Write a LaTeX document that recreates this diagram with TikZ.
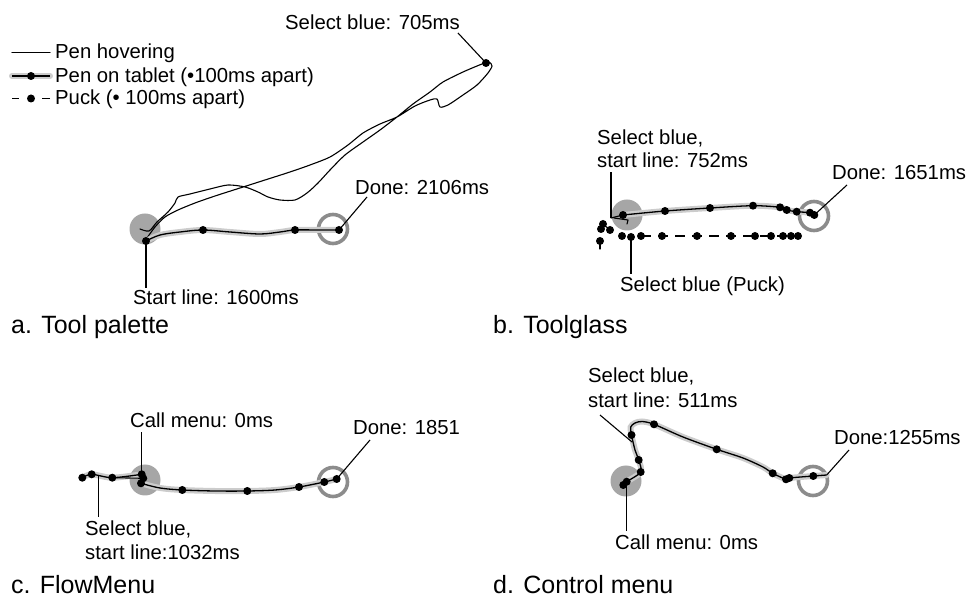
\documentclass[tikz,border=0pt]{standalone}
\usepackage{fontspec}
\setmainfont{Liberation Sans}
\definecolor{penunder}{gray}{0.80}
\definecolor{startgray}{gray}{0.65}
\definecolor{ringgray}{gray}{0.55}
\begin{document}
\begin{tikzpicture}[x=1pt,y=-1pt,
  lbl/.style={font=\fontsize{20.3}{24}\selectfont, inner sep=0pt, anchor=base west},
  captxt/.style={font=\fontsize{25}{29}\selectfont, inner sep=0pt, anchor=base west},
  hover/.style={draw=black, line width=1.1pt, line join=round, line cap=round},
  pen/.style={draw=black, line width=1.3pt, line join=round, preaction={draw=penunder, line width=6pt, line cap=round}},
  puck/.style={draw=black, line width=1.2pt, dash pattern=on 10pt off 7pt},
  leader/.style={draw=black, line width=1.1pt},
  startc/.style={fill=startgray},
  donec/.style={draw=ringgray, line width=3.6pt},
]
\useasboundingbox (0,0) rectangle (970,601);
\newcommand\dotat[1]{\fill (#1) circle[radius=4pt];}

% ---------------- legend ----------------
\coordinate (l1a) at (12,52.5); \coordinate (l1b) at (50,52.5);
\coordinate (l2a) at (12,76);   \coordinate (l2b) at (50,76); \coordinate (l2d) at (31,76);
\coordinate (l3a) at (12,98.5); \coordinate (l3b) at (50,98.5); \coordinate (l3d) at (31,98.5);
\draw[hover] (l1a) -- (l1b);
\draw[pen] (l2a) -- (l2b);
\dotat{l2d}
\draw[leader] (l3a) -- ++(7,0);
\draw[leader] (l3b) -- ++(-8,0);
\dotat{l3d}
\node[lbl] (leg1) at (55,58.5) {Pen hovering};
\node[lbl] (leg2) at (55,83) {Pen on tablet (•100ms apart)};
\node[lbl] (leg3) at (55,105) {Puck (• 100ms apart)};

% ---------------- panel a: Tool palette ----------------
\fill[startc] (145,229) circle[radius=15.5pt];
\draw[donec] (333,229) circle[radius=14.5pt];
\coordinate (a1) at (146,241);
\coordinate (a2) at (203,230);
\coordinate (a3) at (295,230);
\coordinate (a4) at (339,230);
\coordinate (asel) at (486,63);
\draw[hover] plot[smooth, tension=0.45] coordinates {
 (140,229) (149,231) (157,222) (168,212) (175,203) (178,197) (190,194) (210,189)
 (228,185) (245,187) (258,192) (268,197) (280,200) (295,200) (307,193) (318,183)
 (330,170) (345,155) (363,142) (380,130) (397,117) (413,104) (430,92) (443,82)
 (463,72) (482,64) (489,62) (492,66) (488,73) (477,85) (463,95) (448,105)
 (440,107) (437,99) (430,100) (415,106) (397,117) (380,124) (363,133) (348,145)
 (330,157) (310,165) (290,172) (265,180) (240,188) (215,196) (195,203) (178,210)
 (165,217) (155,227) (147,238)};
\draw[pen] plot[smooth, tension=0.55] coordinates {(a1) (160,235) (180,232) (a2) (230,232) (260,234) (280,232) (a3) (320,230) (a4)};
\foreach \p in {a1,a2,a3,a4,asel} {\dotat{\p}}
\node[lbl] (asellab) at (285,30) {Select blue: 705ms};
\coordinate (aselend) at (458,33);
\draw[leader] (aselend) -- (asel);
\node[lbl] (adonelab) at (355,195) {Done: 2106ms};
\coordinate (adoneend) at (367,197);
\draw[leader] (a4) -- (adoneend);
\node[lbl] (astartlab) at (133,305) {Start line: 1600ms};
\draw[leader] (a1) -- (a1 |- 0,288);
\node[captxt] (capa) at (11,334) {a. Tool palette};

% ---------------- panel b: Toolglass ----------------
\fill[startc] (627,215) circle[radius=15.5pt];
\draw[donec] (814,216) circle[radius=14.5pt];
\coordinate (b1) at (623,215);
\coordinate (b2) at (665,211);
\coordinate (b3) at (710,208);
\coordinate (b4) at (753,205.7);
\coordinate (b5) at (780,207.3);
\coordinate (b6) at (786.7,210);
\coordinate (b7) at (796.7,211.7);
\coordinate (b8) at (810,212.7);
\coordinate (b9) at (814.3,215);
\coordinate (bsel) at (611,218);
\draw[pen] plot[smooth, tension=0.5] coordinates {(b1) (b2) (b3) (b4) (b5) (b6) (b7) (b8) (b9)};
\draw[hover] (bsel) -- (b1);
\draw[hover] (614,218) -- (621,219) -- (628,220) -- (627,224);
% puck
\coordinate (p1) at (603,224);
\coordinate (p2) at (601,229);
\coordinate (p3) at (610,230);
\coordinate (p4) at (600,241);
\coordinate (p5) at (622,236);
\coordinate (p6) at (631,237);
\coordinate (p7) at (641,236);
\coordinate (p8) at (662,236);
\coordinate (p9) at (697,236);
\coordinate (p10) at (731,236);
\coordinate (p11) at (755,236);
\coordinate (p12) at (771,236);
\coordinate (p13) at (783,236);
\coordinate (p14) at (791,236);
\coordinate (p15) at (798,236);
\draw[puck] (p7) -- (p15);
\draw[hover] (p1) -- (p3);
\draw[hover] (p4) -- ++(0,8);
\foreach \p in {b1,b2,b3,b4,b5,b6,b7,b8,b9,p1,p2,p3,p4,p5,p6,p7,p8,p9,p10,p11,p12,p13,p14,p15} {\dotat{\p}}
\node[lbl] (bsellab1) at (597,145) {Select blue,};
\node[lbl] (bsellab2) at (597,168) {start line: 752ms};
\draw[leader] (bsel) -- (bsel |- 0,172);
\node[lbl] (bdonelab) at (832,180) {Done: 1651ms};
\coordinate (bdoneend) at (847,185);
\draw[leader] (b9) -- (bdoneend);
\node[lbl] (bpucklab) at (620,292) {Select blue (Puck)};
\draw[leader] (p6) -- (p6 |- 0,274);
\node[captxt] (capb) at (493,334) {b. Toolglass};

% ---------------- panel c: FlowMenu ----------------
\fill[startc] (145,480) circle[radius=15.5pt];
\draw[donec] (333,482) circle[radius=14.5pt];
\coordinate (c1) at (82.3,477.7);
\coordinate (c2) at (91.7,474.3);
\coordinate (c3) at (112.3,477.7);
\coordinate (c4) at (141.7,474.3);
\coordinate (c5) at (143.3,478.3);
\coordinate (c6) at (141,483.3);
\coordinate (c7) at (182.3,490);
\coordinate (c8) at (247.3,491);
\coordinate (c9) at (299,487);
\coordinate (c10) at (324.3,482);
\coordinate (c11) at (336.7,479);
\coordinate (csel) at (98.3,476);
\draw[pen] plot[smooth, tension=0.5] coordinates {(c1) (c2) (c3) (c4)};
\draw[hover] (c3) -- (c5);
\draw[hover] (c4) -- (c6);
\draw[pen] plot[smooth, tension=0.55] coordinates {(c6) (160,488) (c7) (215,491) (c8) (275,490) (c9) (c10) (c11)};
\foreach \p in {c1,c2,c3,c4,c5,c6,c7,c8,c9,c10,c11} {\dotat{\p}}
\node[lbl] (ccalllab) at (130,428) {Call menu: 0ms};
\draw[leader] (c4) -- (c4 |- 0,432);
\node[lbl] (cdonelab) at (353,435) {Done: 1851};
\coordinate (cdoneend) at (370,440);
\draw[leader] (c11) -- (cdoneend);
\node[lbl] (csellab1) at (85,536) {Select blue,};
\node[lbl] (csellab2) at (85,559) {start line:1032ms};
\draw[leader] (csel) -- (csel |- 0,517);
\node[captxt] (capc) at (11,594) {c. FlowMenu};

% ---------------- panel d: Control menu ----------------
\fill[startc] (626,481) circle[radius=15.5pt];
\draw[donec] (813,481) circle[radius=14.5pt];
\coordinate (d1) at (623.3,485);
\coordinate (d2) at (626.7,481.7);
\coordinate (d3) at (640.7,472);
\coordinate (d4) at (638.7,460);
\coordinate (d5) at (631.5,435);
\coordinate (d6) at (654,424.3);
\coordinate (d7) at (716.7,449.3);
\coordinate (d8) at (772.7,473.3);
\coordinate (d9) at (786,479.3);
\coordinate (d10) at (789.3,478);
\coordinate (d11) at (813.3,476);
\coordinate (dend) at (826.7,475);
\coordinate (dsel) at (632,442);
\draw[pen] plot[smooth, tension=0.5] coordinates {(d1) (d2) (d3) (d4) (635,450) (d5) (630.7,427) (635,423) (642,421.5) (d6) (683,437) (d7) (743,458) (763,467) (d8) (d9) (d10) (d11) (dend)};
\foreach \p in {d1,d2,d3,d4,d5,d6,d7,d8,d9,d10,d11} {\dotat{\p}}
\node[lbl] (dsellab1) at (588,383) {Select blue,};
\node[lbl] (dsellab2) at (588,408) {start line: 511ms};
\coordinate (dselend) at (600,415);
\draw[leader] (dselend) -- (dsel);
\node[lbl] (dcalllab) at (615,550) {Call menu: 0ms};
\draw[leader] (d2) -- (d2 |- 0,531);
\node[lbl] (ddonelab) at (834,445) {Done:1255ms};
\coordinate (ddoneend) at (849,450);
\draw[leader] (dend) -- (ddoneend);
\node[captxt] (capd) at (493,594) {d. Control menu};
\end{tikzpicture}
\end{document}
